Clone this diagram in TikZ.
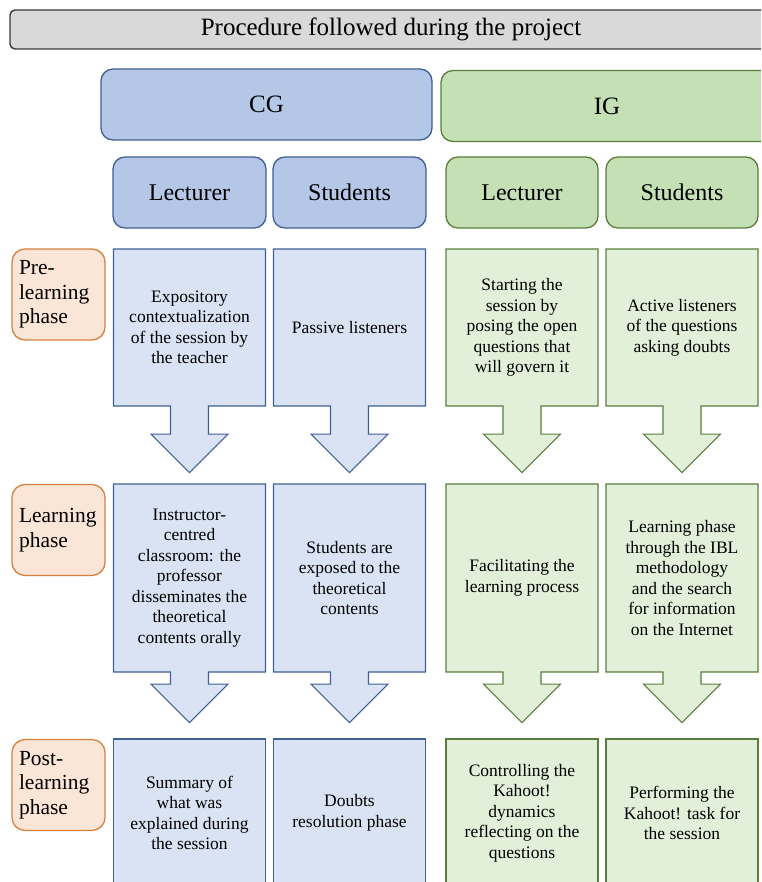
\documentclass[tikz,border=0pt]{standalone}
\usepackage{fontspec}
\setmainfont{LiberationSerif}[Extension=.ttf,UprightFont=*-Regular,BoldFont=*-Bold,ItalicFont=*-Italic]
\usetikzlibrary{shapes.arrows,positioning}

\definecolor{titlefill}{HTML}{D9D9D9}
\definecolor{titleline}{HTML}{3A3A3A}
\definecolor{cgline}{HTML}{3F5F95}
\definecolor{cghead}{HTML}{B4C7E7}
\definecolor{cglight}{HTML}{DAE3F3}
\definecolor{igline}{HTML}{5A7D3C}
\definecolor{ighead}{HTML}{C5E0B4}
\definecolor{iglight}{HTML}{E2F0D9}
\definecolor{phaseline}{HTML}{D9803F}
\definecolor{phasefill}{HTML}{FBE5D6}

\tikzstyle{titlebox}=[rectangle,rounded corners=5pt,draw=titleline,line width=1.4pt,fill=titlefill,minimum width=762pt,minimum height=39pt,font=\fontsize{25pt}{30pt}\selectfont]
\tikzstyle{group}=[rectangle,rounded corners=12pt,line width=1.3pt,minimum height=71pt,font=\fontsize{25pt}{30pt}\selectfont]
\tikzstyle{role}=[rectangle,rounded corners=12pt,line width=1.3pt,minimum width=153pt,minimum height=71pt,font=\fontsize{24pt}{28pt}\selectfont]
\tikzstyle{phase}=[rectangle,rounded corners=13pt,draw=phaseline,line width=1.3pt,fill=phasefill,minimum width=93pt,minimum height=91pt,inner xsep=7pt,text width=79pt,align=left,font=\fontsize{21.5pt}{24.5pt}\selectfont]
\tikzstyle{downbox}=[arrow box,arrow box shaft width=38pt,arrow box head extend=19.5pt,arrow box head indent=0pt,arrow box tip angle=90,minimum width=152pt,align=center,line width=1.1pt,font=\fontsize{17.5pt}{20.5pt}\selectfont]
\tikzstyle{lastbox}=[rectangle,minimum width=152pt,minimum height=148pt,align=center,line width=1.1pt,font=\fontsize{17.5pt}{20.5pt}\selectfont]
\tikzstyle{cgcell}=[draw=cgline,fill=cglight]
\tikzstyle{igcell}=[draw=igline,fill=iglight]

\begin{document}
\begin{tikzpicture}[x=1pt,y=-1pt]
		\clip (0,0) rectangle (761,882);
		\useasboundingbox (0,0) rectangle (761,882);
		\node[titlebox] (title) at (391,29.5) {Procedure followed during the project};
		\node[group,draw=cgline,fill=cghead,minimum width=331pt] (cg) at (266.5,104.5) {CG};
		\node[group,draw=igline,fill=ighead,minimum width=332pt] (ig) at (607,106) {IG};
		% roles
		\node[role,draw=cgline,fill=cghead] (cglect) at (189.5,192.5) {Lecturer};
		\node[role,draw=cgline,fill=cghead,right of=cglect,node distance=160pt] (cgstud) {Students};
		\node[role,draw=igline,fill=ighead,minimum width=152pt,right of=cgstud,node distance=172.5pt] (iglect) {Lecturer};
		\node[role,draw=igline,fill=ighead,minimum width=152pt,right of=iglect,node distance=160pt] (igstud) {Students};
		% phases
		\node[phase] (pre) at (58.5,294.5) {Pre-\\learning\\phase};
		\node[phase] (learn) at (58.5,530) {Learning\\phase};
		\node[phase] (post) at (58.5,785) {Post-\\learning\\phase};
		% pre-learning row
		\node[downbox,cgcell,minimum height=157pt,arrow box arrows={south:66pt},below of=cglect,node distance=135pt] (cgpre1) {Expository\\contextualization\\of the session by\\the teacher};
		\node[downbox,cgcell,minimum height=157pt,arrow box arrows={south:66pt},below of=cgstud,node distance=135pt] (cgpre2) {Passive listeners};
		\node[downbox,igcell,minimum height=157pt,arrow box arrows={south:66pt},below of=iglect,node distance=135pt] (igpre1) {Starting the\\session by\\posing the open\\questions that\\will govern it};
		\node[downbox,igcell,minimum height=157pt,arrow box arrows={south:66pt},below of=igstud,node distance=135pt] (igpre2) {Active listeners\\of the questions\\asking doubts};
		% learning row
		\node[downbox,cgcell,minimum height=188pt,arrow box arrows={south:50pt},below of=cgpre1,node distance=250.5pt] (cglearn1) {Instructor-\\centred\\classroom: the\\professor\\disseminates the\\theoretical\\contents orally};
		\node[downbox,cgcell,minimum height=188pt,arrow box arrows={south:50pt},below of=cgpre2,node distance=250.5pt] (cglearn2) {Students are\\exposed to the\\theoretical\\contents};
		\node[downbox,igcell,minimum height=188pt,arrow box arrows={south:50pt},below of=igpre1,node distance=250.5pt] (iglearn1) {Facilitating the\\learning process};
		\node[downbox,igcell,minimum height=188pt,arrow box arrows={south:50pt},below of=igpre2,node distance=250.5pt] (iglearn2) {Learning phase\\through the IBL\\methodology\\and the search\\for information\\on the Internet};
		% post-learning row
		\node[lastbox,cgcell,below of=cglearn1,node distance=235pt] (cgpost1) {Summary of\\what was\\explained during\\the session};
		\node[lastbox,cgcell,below of=cglearn2,node distance=235pt] (cgpost2) {Doubts\\resolution phase};
		\node[lastbox,igcell,below of=iglearn1,node distance=235pt] (igpost1) {Controlling the\\Kahoot!\\dynamics\\reflecting on the\\questions};
		\node[lastbox,igcell,below of=iglearn2,node distance=235pt] (igpost2) {Performing the\\Kahoot! task for\\the session};
	\end{tikzpicture}
\end{document}
